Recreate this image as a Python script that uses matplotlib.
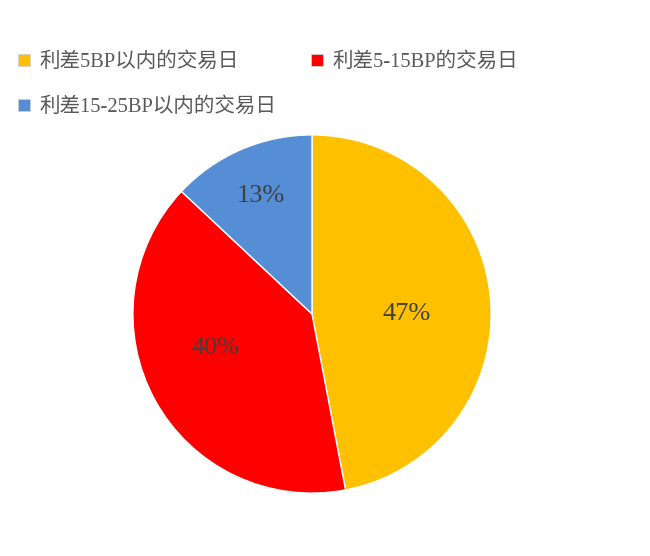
import matplotlib
matplotlib.use("Agg")
import matplotlib.pyplot as plt
from matplotlib.lines import Line2D
import numpy as np

# 数据
labels = ['利差5BP以内的交易日', '利差5-15BP的交易日', '利差15-25BP以内的交易日']
shares = [47, 40, 13]
colors = ['#FFC000', '#FF0000', '#558ED5']

plt.rcParams['font.family'] = ['Liberation Serif', 'Noto Sans CJK SC', 'DejaVu Sans']

fig = plt.figure(figsize=(6.5, 5.56), dpi=100)
ax = fig.add_axes([0.2031, 0.1115, 0.5538, 0.6475])

wedges, texts, autotexts = ax.pie(
    shares, colors=colors, startangle=90, counterclock=False,
    autopct='%d%%', pctdistance=0.6,
    wedgeprops=dict(edgecolor='white', linewidth=1),
    textprops=dict(color='#404040', fontsize=19))

# 标签位置按原图微调（半径比例、角度偏移）
label_r = [0.53, 0.57, 0.72]
label_shift = [-5.4, -9.5, 0.0]
for w, t, r, d in zip(wedges, autotexts, label_r, label_shift):
    ang = np.deg2rad((w.theta1 + w.theta2) / 2 + d)
    t.set_position((r * np.cos(ang), r * np.sin(ang)))
ax.set_xlim(-1.005, 1.005)
ax.set_ylim(-1.005, 1.005)
ax.set_aspect('equal')

# 图例：第一行两项，第二行一项
handles = [Line2D([], [], marker='s', linestyle='none', markersize=9,
                  markerfacecolor=c, markeredgecolor='#D0D0D0', markeredgewidth=0.6)
           for c in colors]
order = [0, 2, 1]
fig.legend([handles[i] for i in order], [labels[i] for i in order],
           ncol=2, loc='upper left', bbox_to_anchor=(0.0, 0.939),
           frameon=False, fontsize=14.8, labelcolor='#595959',
           handlelength=0.57, handletextpad=0.47, columnspacing=1.65,
           labelspacing=1.22)

fig.savefig('out.png', dpi=100, facecolor='white')
